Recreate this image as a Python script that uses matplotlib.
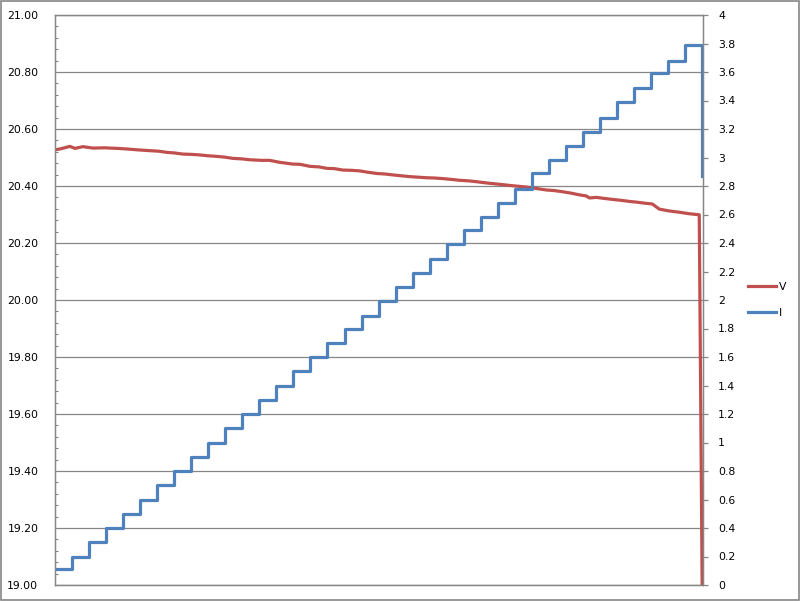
import matplotlib.pyplot as plt
from matplotlib.ticker import MultipleLocator, FormatStrFormatter
from matplotlib.patches import Rectangle

# sample position (one unit = one current step) and voltage readings
v_t = [0.0, 0.29, 0.88, 1.17, 1.64, 2.23, 2.9, 3.64, 4.2, 4.81, 5.57, 6.1, 6.57, 7.0, 7.51,
       8.0, 8.5, 9.0, 9.5, 10.0, 10.44, 11.0, 11.44, 12.14, 12.6, 13.2, 13.96, 14.4, 14.96,
       15.5, 15.95, 16.4, 16.89, 17.4, 17.89, 18.4, 18.89, 19.4, 19.82, 20.3, 20.82, 21.3,
       21.82, 22.3, 22.76, 23.3, 23.75, 24.3, 24.75, 25.3, 25.92, 26.4, 26.86, 27.4, 27.86,
       28.4, 28.86, 29.3, 29.79, 30.3, 30.79, 31.2, 31.38, 31.79, 32.3, 32.73, 33.2, 33.72,
       34.2, 34.72, 35.07, 35.48, 36.0, 36.66, 37.2, 37.83, 38.0]
v_vals = [20.527, 20.530, 20.539, 20.532, 20.538, 20.533, 20.534, 20.532, 20.530, 20.527,
          20.524, 20.522, 20.518, 20.516, 20.512, 20.511, 20.509, 20.506, 20.504, 20.501,
          20.497, 20.495, 20.492, 20.490, 20.490, 20.483, 20.477, 20.476, 20.469, 20.467,
          20.462, 20.461, 20.456, 20.455, 20.453, 20.448, 20.444, 20.442, 20.439, 20.436,
          20.433, 20.431, 20.429, 20.428, 20.426, 20.423, 20.420, 20.418, 20.415, 20.411,
          20.407, 20.404, 20.401, 20.398, 20.395, 20.390, 20.386, 20.384, 20.380, 20.375,
          20.369, 20.365, 20.358, 20.360, 20.356, 20.353, 20.350, 20.346, 20.343, 20.339,
          20.337, 20.319, 20.313, 20.308, 20.303, 20.299, 19.00]

# current steps
i_t = list(range(38)) + [38]
i_vals = [0.11, 0.20, 0.30, 0.40, 0.50, 0.60, 0.70, 0.80, 0.90, 1.00, 1.10, 1.20, 1.30,
          1.40, 1.50, 1.60, 1.70, 1.80, 1.89, 1.99, 2.09, 2.19, 2.29, 2.39, 2.49, 2.58,
          2.68, 2.78, 2.89, 2.98, 3.08, 3.18, 3.28, 3.39, 3.49, 3.59, 3.68, 3.79, 2.87]

red = '#C0504D'
blue = '#4F81BD'
grey = '#868686'

fig = plt.figure(figsize=(8.0, 6.01), dpi=100)
ax = fig.add_axes([55 / 800, 1 - 585 / 601, 648 / 800, 570 / 601])
ax2 = ax.twinx()

l1, = ax.plot(v_t, v_vals, color=red, lw=2.3, label='V', solid_joinstyle='round')
l2, = ax2.plot(i_t, i_vals, color=blue, lw=2.3, label='I', drawstyle='steps-post')

ax.set_xlim(0, 38.05)
ax.set_ylim(19, 21)
ax2.set_ylim(0, 4)

ax.yaxis.set_major_locator(MultipleLocator(0.2))
ax.yaxis.set_minor_locator(MultipleLocator(0.04))
ax.yaxis.set_major_formatter(FormatStrFormatter('%.2f'))
ax.tick_params(axis='y', which='major', length=0, pad=12, labelsize=7.8)
ax.tick_params(axis='y', which='minor', length=2.2, direction='in', color=grey, width=0.8)
ax.set_xticks([])
ax.grid(axis='y', color=grey, lw=0.9)

ax2.yaxis.set_major_locator(MultipleLocator(0.2))
ax2.yaxis.set_major_formatter(FormatStrFormatter('%g'))
ax2.tick_params(axis='y', length=3.8, color=grey, width=0.9, pad=7, labelsize=7.8)

for a in (ax, ax2):
    for s in a.spines.values():
        s.set_color(grey)
        s.set_linewidth(0.9)

fig.legend([l1, l2], ['V', 'I'], loc='center left', bbox_to_anchor=(738 / 800, 1 - 300 / 601),
           frameon=False, fontsize=7.8, handlelength=2.6, handletextpad=0.3, labelspacing=1.45)

fig.patches.append(Rectangle((0.0015, 0.002), 0.997, 0.996, transform=fig.transFigure,
                             fill=False, edgecolor=grey, lw=1.2))

fig.savefig('out.png', dpi=100)
